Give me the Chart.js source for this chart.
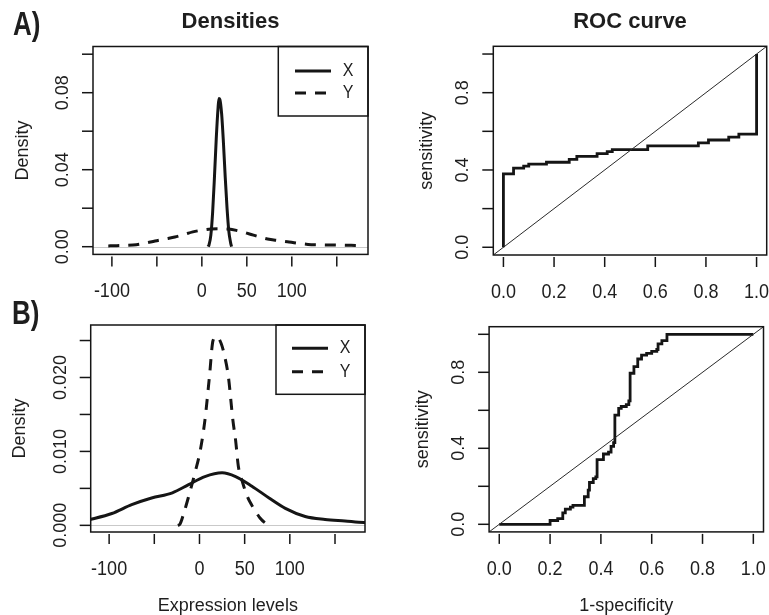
<!DOCTYPE html>
<html><head><meta charset="utf-8">
<script src="https://cdn.jsdelivr.net/npm/chart.js@4.4.1/dist/chart.umd.min.js"></script>
<style>
html,body{margin:0;padding:0;background:#fff;}
#wrap{position:relative;width:769px;height:615px;overflow:hidden;background:#fff;}
canvas{position:absolute;left:0;top:0;}
</style></head><body>
<div id="wrap">
<canvas id="cA1" width="769" height="615"></canvas>
<canvas id="cA2" width="769" height="615"></canvas>
<canvas id="cB1" width="769" height="615"></canvas>
<canvas id="cB2" width="769" height="615"></canvas>
</div>
<script>
// ---------- data ----------
// Panel A, densities
const densA_X_at  = [7, 8, 10, 12, 14, 16, 18, 19, 20, 22, 24, 26, 28, 30, 32, 33];
const densA_X_val = [0, 0.001, 0.006, 0.018, 0.036, 0.056, 0.072, 0.077, 0.0765, 0.069, 0.054, 0.036, 0.020, 0.008, 0.002, 0];
const densA_Y_at  = [-104, -97, -85, -73, -63, -52, -40, -30, -20, -10, 0, 10, 20, 30, 40, 53, 63, 73, 85, 95, 105, 118, 130, 144, 155, 166, 174];
const densA_Y_val = [0.0004, 0.0005, 0.0007, 0.0010, 0.0018, 0.0030, 0.0041, 0.0050, 0.0063, 0.0077, 0.0086, 0.0092, 0.0093, 0.0092, 0.0083, 0.0066, 0.0052, 0.0040, 0.0032, 0.0026, 0.0019, 0.0012, 0.0010, 0.0009, 0.0008, 0.0007, 0.0006];
// Panel A, ROC
const rocA_fpr = [0, 0, 0.04, 0.08, 0.10, 0.17, 0.26, 0.29, 0.37, 0.41, 0.43, 0.57, 0.77, 0.81, 0.89, 0.93, 1.0, 1.0];
const rocA_tpr = [0, 0.38, 0.41, 0.42, 0.43, 0.44, 0.455, 0.47, 0.485, 0.495, 0.505, 0.525, 0.54, 0.555, 0.57, 0.585, 0.59, 1.0];
// Panel B, densities
const densB_X_at  = [-125, -119, -97, -75, -53, -30, -12, 6, 25, 40, 58, 77, 95, 117, 139, 161, 182, 190];
const densB_X_val = [0.0007, 0.00086, 0.0016, 0.0028, 0.0037, 0.0044, 0.0055, 0.0066, 0.0071, 0.0066, 0.0053, 0.0037, 0.0023, 0.0012, 0.0008, 0.0006, 0.0004, 0.0004];
const densB_Y_at  = [-24, -22, -17, -12, -5, 1, 6, 11, 15, 19, 24, 28, 32, 37, 40, 43, 48, 53, 58, 62, 67, 73, 78];
const densB_Y_val = [0, 0.0001, 0.0018, 0.0039, 0.0071, 0.0102, 0.0142, 0.0201, 0.0250, 0.0255, 0.0246, 0.0228, 0.0201, 0.0142, 0.0115, 0.0080, 0.0057, 0.0039, 0.0027, 0.0019, 0.0010, 0.0003, 0];
// Panel B, ROC
const rocB_fpr = [0, 0.20, 0.23, 0.25, 0.26, 0.28, 0.29, 0.335, 0.35, 0.355, 0.37, 0.38, 0.385, 0.41, 0.43, 0.44, 0.45, 0.455, 0.47, 0.48, 0.50, 0.51, 0.515, 0.53, 0.545, 0.56, 0.58, 0.60, 0.62, 0.625, 0.64, 0.66, 1.0];
const rocB_tpr = [0, 0.02, 0.03, 0.06, 0.08, 0.09, 0.10, 0.145, 0.18, 0.22, 0.24, 0.25, 0.34, 0.37, 0.38, 0.41, 0.43, 0.575, 0.61, 0.62, 0.63, 0.65, 0.795, 0.83, 0.87, 0.89, 0.90, 0.91, 0.92, 0.95, 0.967, 1.0, 1.0];
const rocDiagonal = [-0.05, 1.05];

// ticks and labels
const densTicksX  = [-100, -50, 0, 50, 100, 150];
const densLabelsX = ['-100', '', '0', '50', '100', ''];
const densA_TicksY  = [0, 0.02, 0.04, 0.06, 0.08, 0.10];
const densA_LabelsY = ['0.00', '', '0.04', '', '0.08', ''];
const densB_TicksY  = [0, 0.005, 0.010, 0.015, 0.020, 0.025];
const densB_LabelsY = ['0.000', '', '0.010', '', '0.020', ''];
const rocTicks   = [0, 0.2, 0.4, 0.6, 0.8, 1.0];
const rocLabelsX = ['0.0', '0.2', '0.4', '0.6', '0.8', '1.0'];
const rocLabelsY = ['0.0', '', '0.4', '', '0.8', ''];
const seriesNames = ['X', 'Y'];

// ---------- drawing ----------
const W = 769, H = 615;
const FONT = '"Liberation Sans", Arial, Helvetica, sans-serif';
const INK = '#151515';
const TXT = '#1e1e1e';
const DASH = [11, 9];

function pts(xs, ys) { return xs.map((x, i) => ({x: x, y: ys[i]})); }

function text(ctx, s, x, y, size, o) {
  o = o || {};
  ctx.save();
  ctx.translate(x, y);
  if (o.rot) ctx.rotate(-Math.PI / 2);
  ctx.scale(1, o.sy || 1);
  ctx.font = (o.bold ? 'bold ' : '') + size + 'px ' + FONT;
  ctx.fillStyle = TXT;
  ctx.textAlign = o.align || 'center';
  ctx.textBaseline = 'middle';
  ctx.fillText(s, 0, 0);
  ctx.restore();
}

function rPlugin(P) {
  return {
    id: 'rstyle',
    beforeDatasetsDraw(chart) {
      if (!P.zero) return;
      const a = chart.chartArea, y = chart.scales.y, ctx = chart.ctx;
      const py = Math.round(y.getPixelForValue(0)) + 0.5;
      ctx.save();
      ctx.strokeStyle = '#c9c9c9'; ctx.lineWidth = 1;
      ctx.beginPath(); ctx.moveTo(a.left, py); ctx.lineTo(a.right, py); ctx.stroke();
      ctx.restore();
    },
    afterDatasetsDraw(chart) {
      const a = chart.chartArea, x = chart.scales.x, y = chart.scales.y, ctx = chart.ctx;
      ctx.save();
      ctx.strokeStyle = INK; ctx.lineWidth = 1.5;
      ctx.strokeRect(a.left, a.top, a.right - a.left, a.bottom - a.top);
      P.xTicks.forEach((v, i) => {
        const px = x.getPixelForValue(v);
        ctx.beginPath(); ctx.moveTo(px, a.bottom + 2); ctx.lineTo(px, a.bottom + 12); ctx.stroke();
        if (P.xLabels[i]) text(ctx, P.xLabels[i], px, a.bottom + 37, 18, {sy: 1.15});
      });
      P.yTicks.forEach((v, i) => {
        const py = y.getPixelForValue(v);
        ctx.beginPath(); ctx.moveTo(a.left, py); ctx.lineTo(a.left - 11, py); ctx.stroke();
        if (P.yLabels[i]) text(ctx, P.yLabels[i], a.left - 30, py, 18, {rot: true});
      });
      text(ctx, P.yTitle, P.yTitleX, (a.top + a.bottom) / 2, 18, {rot: true});
      if (P.xTitle) text(ctx, P.xTitle, (a.left + a.right) / 2, 606, 18);
      if (P.title) text(ctx, P.title, (a.left + a.right) / 2, 22, 22, {bold: true});
      if (P.tag) text(ctx, P.tag[0], P.tag[1], P.tag[2], 26, {bold: true, sy: 1.3, align: 'left'});
      if (P.legend) {
        const L = P.legend;
        const lx = a.right - L.w, ly = a.top;
        ctx.lineWidth = 1.5; ctx.strokeStyle = INK;
        ctx.strokeRect(lx, ly, L.w, L.h);
        seriesNames.forEach((name, i) => {
          const ry = ly + L.rows[i];
          ctx.save();
          ctx.lineWidth = 3; ctx.setLineDash(i === 0 ? [] : DASH);
          ctx.beginPath(); ctx.moveTo(a.right - 73, ry); ctx.lineTo(a.right - 37, ry); ctx.stroke();
          ctx.restore();
          text(ctx, name, a.right - 20, ry, 16, {sy: 1.1});
        });
      }
      ctx.restore();
    }
  };
}

function makeChart(id, box, xr, yr, datasets, P) {
  return new Chart(document.getElementById(id), {
    type: 'scatter',
    data: {datasets: datasets},
    options: {
      responsive: false, animation: false, devicePixelRatio: 1,
      layout: {padding: {left: box.l, top: box.t, right: W - box.r, bottom: H - box.b}},
      scales: {
        x: {type: 'linear', display: false, min: xr[0], max: xr[1]},
        y: {type: 'linear', display: false, min: yr[0], max: yr[1]}
      },
      plugins: {legend: {display: false}, tooltip: {enabled: false}, title: {display: false}},
      elements: {point: {radius: 0, hoverRadius: 0}}
    },
    plugins: [rPlugin(P)]
  });
}

function densSet(xs, ys, dashed) {
  return {data: pts(xs, ys), showLine: true, borderColor: INK, borderWidth: 3, pointRadius: 0,
          cubicInterpolationMode: 'monotone', borderDash: dashed ? DASH : [], fill: false};
}
function rocSet(xs, ys) {
  return {data: pts(xs, ys), showLine: true, borderColor: INK, borderWidth: 2.8, pointRadius: 0,
          stepped: true, fill: false};
}
function diagSet() {
  return {data: pts(rocDiagonal, rocDiagonal), showLine: true, borderColor: '#2a2a2a', borderWidth: 1, pointRadius: 0};
}

// Panel A - densities
makeChart('cA1', {l: 93, t: 46.5, r: 368, b: 254.4}, [-121, 184.7], [-0.004, 0.104],
  [densSet(densA_X_at, densA_X_val, false), densSet(densA_Y_at, densA_Y_val, true)],
  {zero: true, xTicks: densTicksX, xLabels: densLabelsX, yTicks: densA_TicksY, yLabels: densA_LabelsY,
   yTitle: 'Density', yTitleX: 23, title: 'Densities', tag: ['A)', 13, 26],
   legend: {w: 89.7, h: 69.5, rows: [24.5, 46.5]}});

// Panel A - ROC
makeChart('cA2', {l: 493.3, t: 46.3, r: 766.7, b: 255}, [-0.04, 1.04], [-0.04, 1.04],
  [diagSet(), rocSet(rocA_fpr, rocA_tpr)],
  {zero: false, xTicks: rocTicks, xLabels: rocLabelsX, yTicks: rocTicks, yLabels: rocLabelsY,
   yTitle: 'sensitivity', yTitleX: 426.7, title: 'ROC curve'});

// Panel B - densities
makeChart('cB1', {l: 90.7, t: 325, r: 365, b: 532}, [-120.4, 183.2], [-0.0009, 0.0271],
  [densSet(densB_X_at, densB_X_val, false), densSet(densB_Y_at, densB_Y_val, true)],
  {zero: true, xTicks: densTicksX, xLabels: densLabelsX, yTicks: densB_TicksY, yLabels: densB_LabelsY,
   yTitle: 'Density', yTitleX: 20, xTitle: 'Expression levels', tag: ['B)', 12, 315],
   legend: {w: 89, h: 69.3, rows: [23.3, 46.7]}});

// Panel B - ROC
makeChart('cB2', {l: 489.1, t: 326.7, r: 763.5, b: 531.9}, [-0.04, 1.04], [-0.04, 1.04],
  [diagSet(), rocSet(rocB_fpr, rocB_tpr)],
  {zero: false, xTicks: rocTicks, xLabels: rocLabelsX, yTicks: rocTicks, yLabels: rocLabelsY,
   yTitle: 'sensitivity', yTitleX: 423, xTitle: '1-specificity'});
</script>
</body></html>
